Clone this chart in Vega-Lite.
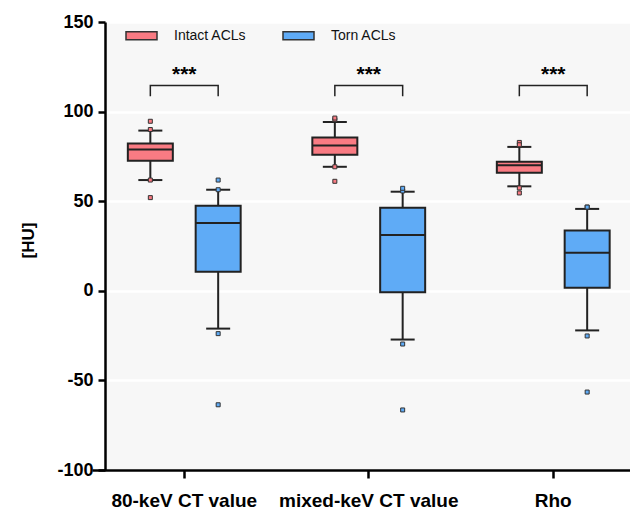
{
  "$schema": "https://vega.github.io/schema/vega-lite/v6.json",
  "width": 528,
  "height": 448,
  "autosize": {"type": "none"},
  "padding": {"left": 105, "top": 22, "right": 0, "bottom": 41},
  "background": "white",
  "config": {
    "font": "Liberation Sans",
    "view": {"fill": "#f7f7f7", "stroke": null},
    "axis": {"domainColor": "#000", "tickColor": "#000", "labelColor": "#000", "titleColor": "#000"}
  },
  "datasets": {
    "boxes": [
      {"group": "80-keV CT value", "series": "Intact ACLs", "lower": 61.8, "q1": 72.6, "median": 78.9, "q3": 82.2, "upper": 89.4},
      {"group": "80-keV CT value", "series": "Torn ACLs", "lower": -21.1, "q1": 10.7, "median": 37.8, "q3": 47.4, "upper": 56.4},
      {"group": "mixed-keV CT value", "series": "Intact ACLs", "lower": 69.2, "q1": 75.9, "median": 81.1, "q3": 85.5, "upper": 94.2},
      {"group": "mixed-keV CT value", "series": "Torn ACLs", "lower": -27.2, "q1": -0.8, "median": 31.1, "q3": 46.4, "upper": 55.3},
      {"group": "Rho", "series": "Intact ACLs", "lower": 58.3, "q1": 65.9, "median": 70.0, "q3": 72.0, "upper": 80.3},
      {"group": "Rho", "series": "Torn ACLs", "lower": -22.1, "q1": 1.7, "median": 21.3, "q3": 33.7, "upper": 45.7}
    ],
    "points": [
      {"group": "80-keV CT value", "series": "Intact ACLs", "value": 94.6},
      {"group": "80-keV CT value", "series": "Intact ACLs", "value": 90.0},
      {"group": "80-keV CT value", "series": "Intact ACLs", "value": 61.8},
      {"group": "80-keV CT value", "series": "Intact ACLs", "value": 52.0},
      {"group": "80-keV CT value", "series": "Torn ACLs", "value": 61.8},
      {"group": "80-keV CT value", "series": "Torn ACLs", "value": 56.4},
      {"group": "80-keV CT value", "series": "Torn ACLs", "value": -23.9},
      {"group": "80-keV CT value", "series": "Torn ACLs", "value": -63.6},
      {"group": "mixed-keV CT value", "series": "Intact ACLs", "value": 95.5},
      {"group": "mixed-keV CT value", "series": "Intact ACLs", "value": 96.4},
      {"group": "mixed-keV CT value", "series": "Intact ACLs", "value": 69.2},
      {"group": "mixed-keV CT value", "series": "Intact ACLs", "value": 61.1},
      {"group": "mixed-keV CT value", "series": "Torn ACLs", "value": 55.7},
      {"group": "mixed-keV CT value", "series": "Torn ACLs", "value": 57.2},
      {"group": "mixed-keV CT value", "series": "Torn ACLs", "value": -29.7},
      {"group": "mixed-keV CT value", "series": "Torn ACLs", "value": -66.5},
      {"group": "Rho", "series": "Intact ACLs", "value": 82.8},
      {"group": "Rho", "series": "Intact ACLs", "value": 81.5},
      {"group": "Rho", "series": "Intact ACLs", "value": 57.4},
      {"group": "Rho", "series": "Intact ACLs", "value": 54.6},
      {"group": "Rho", "series": "Torn ACLs", "value": 46.7},
      {"group": "Rho", "series": "Torn ACLs", "value": 46.7},
      {"group": "Rho", "series": "Torn ACLs", "value": -25.2},
      {"group": "Rho", "series": "Torn ACLs", "value": -56.5}
    ],
    "brackets": [
      {"group": "80-keV CT value", "series": "Intact ACLs", "y": 108.5, "ord": 1},
      {"group": "80-keV CT value", "series": "Intact ACLs", "y": 114.6, "ord": 2},
      {"group": "80-keV CT value", "series": "Torn ACLs", "y": 114.6, "ord": 3},
      {"group": "80-keV CT value", "series": "Torn ACLs", "y": 108.5, "ord": 4},
      {"group": "mixed-keV CT value", "series": "Intact ACLs", "y": 108.5, "ord": 1},
      {"group": "mixed-keV CT value", "series": "Intact ACLs", "y": 114.6, "ord": 2},
      {"group": "mixed-keV CT value", "series": "Torn ACLs", "y": 114.6, "ord": 3},
      {"group": "mixed-keV CT value", "series": "Torn ACLs", "y": 108.5, "ord": 4},
      {"group": "Rho", "series": "Intact ACLs", "y": 108.5, "ord": 1},
      {"group": "Rho", "series": "Intact ACLs", "y": 114.6, "ord": 2},
      {"group": "Rho", "series": "Torn ACLs", "y": 114.6, "ord": 3},
      {"group": "Rho", "series": "Torn ACLs", "y": 108.5, "ord": 4}
    ],
    "stars": [
      {"group": "80-keV CT value", "label": "***", "y": 117},
      {"group": "mixed-keV CT value", "label": "***", "y": 117},
      {"group": "Rho", "label": "***", "y": 117}
    ]
  },
  "encoding": {
    "x": {
      "field": "group", "type": "nominal",
      "sort": ["80-keV CT value", "mixed-keV CT value", "Rho"],
      "scale": {"paddingInner": 0, "paddingOuter": 0, "range": [-13, 540.5]},
      "axis": {
        "title": null, "labelAngle": 0, "labelFontSize": 19, "labelFontWeight": "bold",
        "labelPadding": 13, "tickSize": 8, "tickWidth": 2.5, "domainWidth": 2.5, "grid": false
      }
    }
  },
  "layer": [
    {
      "data": {"name": "boxes"},
      "mark": {"type": "rule", "color": "#222", "strokeWidth": 2},
      "encoding": {
        "xOffset": {"field": "series", "type": "nominal", "scale": {"paddingOuter": 0.36, "paddingInner": 0}},
        "y": {
          "field": "lower", "type": "quantitative",
          "scale": {"domain": [-100, 150], "nice": false, "zero": false},
          "axis": {
            "values": [-100, -50, 0, 50, 100, 150], "title": "[HU]",
            "labelExpr": "datum.value < 0 ? '-' + abs(datum.value) : '' + datum.value",
            "titleFontSize": 17, "titleFontWeight": "bold", "titleX": -77, "titleY": 218,
            "titleBaseline": "middle", "titleAlign": "center",
            "labelFontSize": 18, "labelFontWeight": "bold", "labelPadding": 5,
            "tickSize": 7, "tickWidth": 2.5, "domainWidth": 2.5,
            "grid": true, "gridColor": "#ffffff", "gridWidth": 2.5, "gridOpacity": 1
          }
        },
        "y2": {"field": "upper"}
      }
    },
    {
      "data": {"name": "boxes"},
      "mark": {"type": "bar", "size": 45, "stroke": "#222", "strokeWidth": 2},
      "encoding": {
        "xOffset": {"field": "series", "type": "nominal"},
        "y": {"field": "q1", "type": "quantitative"},
        "y2": {"field": "q3"},
        "fill": {
          "field": "series", "type": "nominal",
          "scale": {"domain": ["Intact ACLs", "Torn ACLs"], "range": ["#f97b83", "#5fabf6"]},
          "legend": {
            "title": null, "orient": "none", "direction": "horizontal",
            "legendX": 20, "legendY": -3, "padding": 0,
            "symbolType": "M-1,-0.26H1V0.26H-1Z", "symbolSize": 961,
            "symbolStrokeColor": "#333", "symbolStrokeWidth": 1.5, "symbolOpacity": 1,
            "labelFontSize": 14, "labelColor": "#111", "labelOffset": 16, "columnPadding": 33
          }
        }
      }
    },
    {
      "data": {"name": "boxes"},
      "mark": {"type": "tick", "size": 45, "thickness": 2, "color": "#222", "opacity": 1},
      "encoding": {
        "xOffset": {"field": "series", "type": "nominal"},
        "y": {"field": "median", "type": "quantitative"}
      }
    },
    {
      "data": {"name": "boxes"},
      "mark": {"type": "tick", "size": 24, "thickness": 2, "color": "#222", "opacity": 1},
      "encoding": {
        "xOffset": {"field": "series", "type": "nominal"},
        "y": {"field": "upper", "type": "quantitative"}
      }
    },
    {
      "data": {"name": "boxes"},
      "mark": {"type": "tick", "size": 24, "thickness": 2, "color": "#222", "opacity": 1},
      "encoding": {
        "xOffset": {"field": "series", "type": "nominal"},
        "y": {"field": "lower", "type": "quantitative"}
      }
    },
    {
      "data": {"name": "points"},
      "mark": {"type": "point", "shape": "square", "size": 16, "filled": true, "stroke": "#333", "strokeWidth": 1, "opacity": 1},
      "encoding": {
        "xOffset": {"field": "series", "type": "nominal"},
        "y": {"field": "value", "type": "quantitative"},
        "fill": {"field": "series", "type": "nominal", "legend": null}
      }
    },
    {
      "data": {"name": "brackets"},
      "mark": {"type": "line", "color": "#222", "strokeWidth": 1.5},
      "encoding": {
        "xOffset": {"field": "series", "type": "nominal"},
        "y": {"field": "y", "type": "quantitative"},
        "detail": {"field": "group"},
        "order": {"field": "ord", "type": "quantitative"}
      }
    },
    {
      "data": {"name": "stars"},
      "mark": {"type": "text", "fontSize": 21, "fontWeight": "bold", "color": "#000", "baseline": "alphabetic", "align": "center"},
      "encoding": {
        "y": {"field": "y", "type": "quantitative"},
        "text": {"field": "label"}
      }
    }
  ]
}
